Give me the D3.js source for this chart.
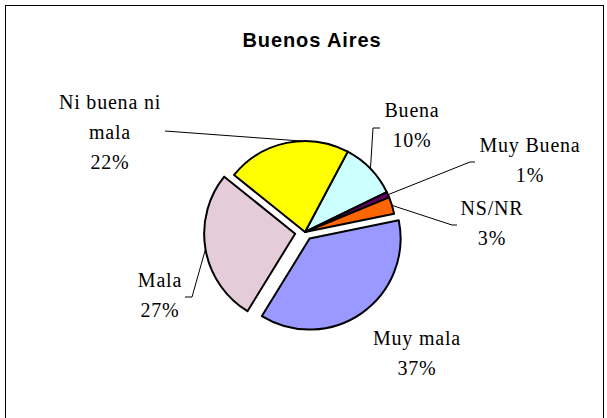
<!DOCTYPE html>
<html><head><meta charset="utf-8">
<script src="https://cdn.jsdelivr.net/npm/d3@7"></script>
<style>body{margin:0;background:#fff}svg{display:block}</style>
</head><body>
<svg id="c" width="607" height="418"></svg>
<script>
const categories = ["Buena", "Muy Buena", "NS/NR", "Muy mala", "Mala", "Ni buena ni mala"];
const values = [10, 1, 3, 37, 27, 22];
const pctLabels = ["10%", "1%", "3%", "37%", "27%", "22%"];
const colors = ["#CCFFFF", "#660066", "#FF6600", "#9999FF", "#E5CCD9", "#FFFF00"];
const explode = [0, 0, 0, 8, 10, 0];

const svg = d3.select("#c");
svg.append("rect").attr("x", 5.5).attr("y", 5.5).attr("width", 598).attr("height", 430)
  .attr("fill", "#fff").attr("stroke", "#000").attr("stroke-width", 1);

svg.append("text").attr("x", 312).attr("y", 47).attr("text-anchor", "middle")
  .attr("font-family", "Liberation Sans, Arial, sans-serif").attr("font-weight", "bold")
  .attr("font-size", 20).attr("letter-spacing", 0.9).text("Buenos Aires");

const cx = 305, cy = 232, R = 91;
const start = 28 * Math.PI / 180;
const pie = d3.pie().sort(null).value(d => d).startAngle(start).endAngle(start + 2 * Math.PI);
const arcs = pie(values);
const arc = d3.arc().innerRadius(0).outerRadius(R);

const g = svg.append("g").attr("transform", `translate(${cx},${cy})`);
function off(d, i) {
  const a = (d.startAngle + d.endAngle) / 2;
  return [Math.sin(a) * explode[i], -Math.cos(a) * explode[i]];
}
g.selectAll("path").data(arcs).join("path")
  .attr("d", arc)
  .attr("transform", (d, i) => { const o = off(d, i); return `translate(${o[0]},${o[1]})`; })
  .attr("fill", (d, i) => colors[i])
  .attr("stroke", "#000").attr("stroke-width", 2).attr("stroke-linejoin", "round");

// label layout (text positions) and leader elbows
const labelLayout = [
  {lines: ["Buena"], x: 412, y: 117, elbow: [[380, 128], [373, 128]]},
  {lines: ["Muy Buena"], x: 530, y: 152, elbow: [[475, 162], [470, 162]]},
  {lines: ["NS/NR"], x: 492, y: 215, elbow: [[457, 225], [452, 225]]},
  {lines: ["Muy mala"], x: 417, y: 345, elbow: null},
  {lines: ["Mala"], x: 160, y: 287, elbow: [[185, 297], [192, 297]]},
  {lines: ["Ni buena ni", "mala"], x: 110, y: 109, elbow: [[165, 131]]}
];
const lh = 30;
arcs.forEach((d, i) => {
  const L = labelLayout[i];
  const t = svg.append("text").attr("text-anchor", "middle")
    .attr("font-family", "Liberation Serif, Times New Roman, serif")
    .attr("font-size", 20).attr("letter-spacing", 0.8).attr("fill", "#000");
  const all = L.lines.concat([pctLabels[i]]);
  all.forEach((s, k) => t.append("tspan").attr("x", L.x).attr("y", L.y + k * lh).text(s));
  if (L.elbow) {
    const a = (d.startAngle + d.endAngle) / 2;
    const o = off(d, i);
    const rr = i === 5 ? R : R;
    const ang = i === 5 ? (d.startAngle + (d.endAngle - d.startAngle) * 0.62) : a;
    const p = [cx + o[0] + Math.sin(ang) * rr, cy + o[1] - Math.cos(ang) * rr];
    const pts = L.elbow.concat([p]);
    svg.append("path").attr("d", d3.line()(pts)).attr("fill", "none")
      .attr("stroke", "#000").attr("stroke-width", 1);
  }
});
</script>
</body></html>
